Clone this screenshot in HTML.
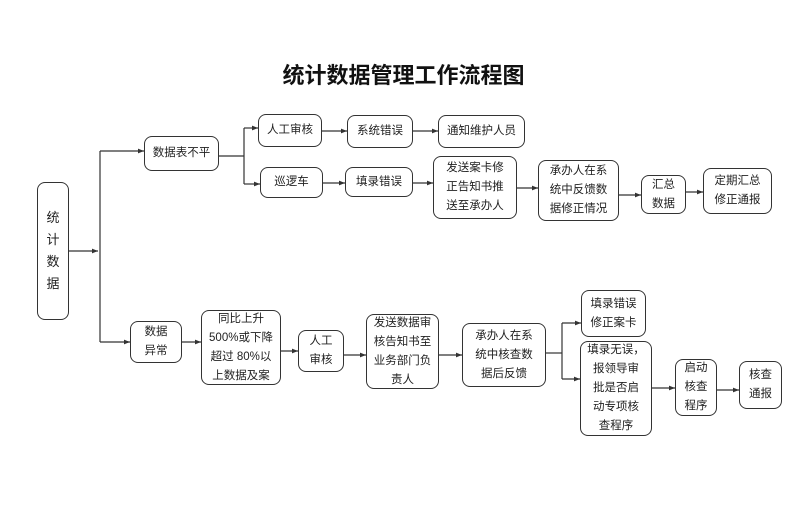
<!DOCTYPE html>
<html><head><meta charset="utf-8"><style>
body{margin:0;background:#fff;}
#c{position:relative;width:807px;height:508px;overflow:hidden;font-family:"Liberation Sans","Noto Sans CJK SC",sans-serif;color:#222;}
.b{position:absolute;box-sizing:border-box;border:1.5px solid #333;border-radius:8px;display:flex;align-items:center;justify-content:center;text-align:center;font-size:11.5px;line-height:19px;background:#fff;}
.t{position:absolute;left:0;width:807px;top:58px;text-align:center;font-size:22px;font-weight:bold;color:#111;}
svg{position:absolute;left:0;top:0;}
</style></head><body><div id="c">
<svg width="807" height="508"><defs><marker id="a" markerWidth="6" markerHeight="6" refX="5" refY="3" orient="auto"><path d="M0,1 L5,3 L0,5z" fill="#333"/></marker></defs>
<g stroke="#333" stroke-width="1.2" fill="none">
<line x1="68" y1="251" x2="98" y2="251" marker-end="url(#a)"/>
<line x1="100" y1="151" x2="100" y2="342"/>
<line x1="100" y1="151" x2="144" y2="151" marker-end="url(#a)"/>
<line x1="219" y1="156" x2="244" y2="156"/>
<line x1="244" y1="128" x2="244" y2="184"/>
<line x1="244" y1="128" x2="258" y2="128" marker-end="url(#a)"/>
<line x1="244" y1="184" x2="260" y2="184" marker-end="url(#a)"/>
<line x1="322" y1="131" x2="347" y2="131" marker-end="url(#a)"/>
<line x1="323" y1="183" x2="345" y2="183" marker-end="url(#a)"/>
<line x1="413" y1="131" x2="438" y2="131" marker-end="url(#a)"/>
<line x1="413" y1="183" x2="433" y2="183" marker-end="url(#a)"/>
<line x1="517" y1="188" x2="538" y2="188" marker-end="url(#a)"/>
<line x1="619" y1="195" x2="641" y2="195" marker-end="url(#a)"/>
<line x1="686" y1="192" x2="703" y2="192" marker-end="url(#a)"/>
<line x1="100" y1="342" x2="130" y2="342" marker-end="url(#a)"/>
<line x1="182" y1="342" x2="201" y2="342" marker-end="url(#a)"/>
<line x1="281" y1="351" x2="298" y2="351" marker-end="url(#a)"/>
<line x1="344" y1="355" x2="366" y2="355" marker-end="url(#a)"/>
<line x1="439" y1="355" x2="462" y2="355" marker-end="url(#a)"/>
<line x1="546" y1="353" x2="562" y2="353"/>
<line x1="562" y1="323" x2="562" y2="379"/>
<line x1="562" y1="323" x2="581" y2="323" marker-end="url(#a)"/>
<line x1="562" y1="379" x2="580" y2="379" marker-end="url(#a)"/>
<line x1="652" y1="388" x2="675" y2="388" marker-end="url(#a)"/>
<line x1="717" y1="390" x2="739" y2="390" marker-end="url(#a)"/>
</g></svg>
<div class="t">统计数据管理工作流程图</div>
<div class="b" style="left:37px;top:182px;width:32px;height:138px;line-height:22px;font-size:13px;">统<br>计<br>数<br>据</div>
<div class="b" style="left:144px;top:136px;width:75px;height:35px;">数据表不平</div>
<div class="b" style="left:258px;top:114px;width:64px;height:33px;">人工审核</div>
<div class="b" style="left:260px;top:167px;width:63px;height:31px;">巡逻车</div>
<div class="b" style="left:347px;top:115px;width:66px;height:33px;">系统错误</div>
<div class="b" style="left:345px;top:167px;width:68px;height:30px;">填录错误</div>
<div class="b" style="left:438px;top:115px;width:87px;height:33px;">通知维护人员</div>
<div class="b" style="left:433px;top:156px;width:84px;height:63px;">发送案卡修<br>正告知书推<br>送至承办人</div>
<div class="b" style="left:538px;top:160px;width:81px;height:61px;">承办人在系<br>统中反馈数<br>据修正情况</div>
<div class="b" style="left:641px;top:175px;width:45px;height:39px;">汇总<br>数据</div>
<div class="b" style="left:703px;top:168px;width:69px;height:46px;">定期汇总<br>修正通报</div>
<div class="b" style="left:130px;top:321px;width:52px;height:42px;">数据<br>异常</div>
<div class="b" style="left:201px;top:310px;width:80px;height:75px;">同比上升<br>500%或下降<br>超过 80%以<br>上数据及案</div>
<div class="b" style="left:298px;top:330px;width:46px;height:42px;">人工<br>审核</div>
<div class="b" style="left:366px;top:314px;width:73px;height:75px;">发送数据审<br>核告知书至<br>业务部门负<br>责人</div>
<div class="b" style="left:462px;top:323px;width:84px;height:64px;">承办人在系<br>统中核查数<br>据后反馈</div>
<div class="b" style="left:581px;top:290px;width:65px;height:47px;">填录错误<br>修正案卡</div>
<div class="b" style="left:580px;top:341px;width:72px;height:95px;">填录无误，<br>报领导审<br>批是否启<br>动专项核<br>查程序</div>
<div class="b" style="left:675px;top:359px;width:42px;height:57px;">启动<br>核查<br>程序</div>
<div class="b" style="left:739px;top:361px;width:43px;height:48px;">核查<br>通报</div>
</div></body></html>
